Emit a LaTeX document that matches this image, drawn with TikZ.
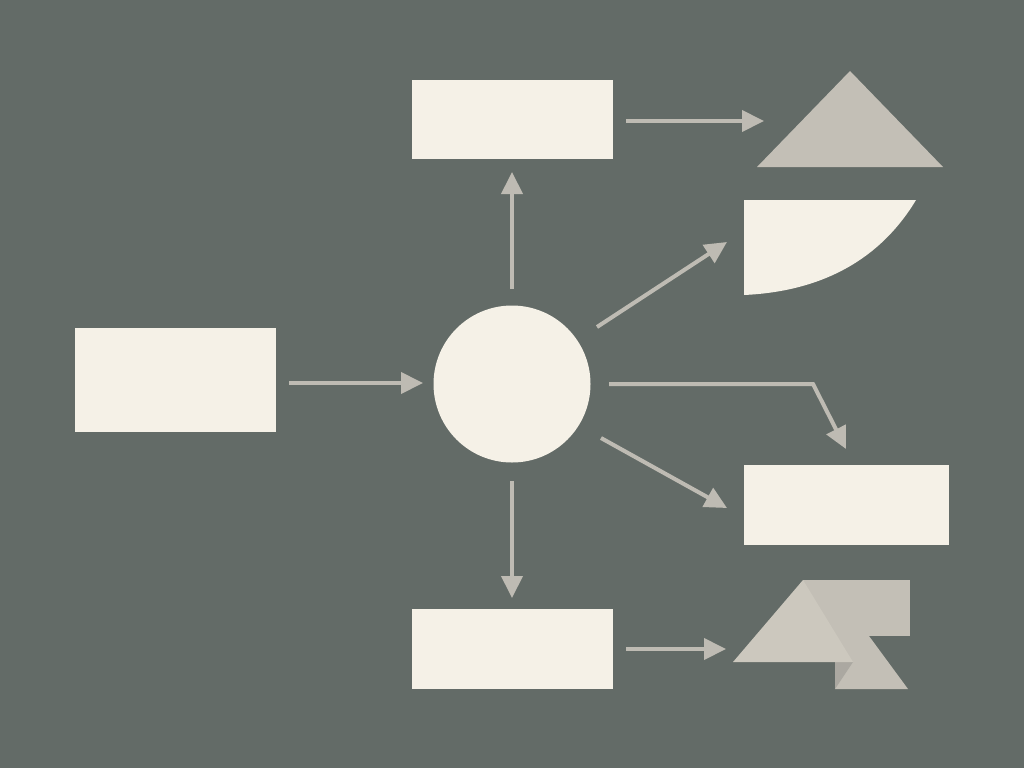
\documentclass[tikz,border=0pt]{standalone}
\usetikzlibrary{arrows.meta}
\definecolor{bg}{HTML}{636B67}
\definecolor{boxc}{HTML}{F5F1E7}
\definecolor{arr}{HTML}{BEBBB3}
\definecolor{tri}{HTML}{C3BFB6}
\definecolor{tril}{HTML}{CCC8BE}
\definecolor{trid}{HTML}{ABA8A1}
\begin{document}
\begin{tikzpicture}[x=1pt,y=-1pt,
  boxn/.style={fill=boxc,draw=none,inner sep=0pt,minimum width=#1},
  conn/.style={draw=arr,line width=4pt,-{Triangle[length=22pt,width=21pt]}}]
\fill[bg] (0,0) rectangle (1024,768);
\useasboundingbox (0,0) rectangle (1024,768);
% nodes
\node[boxn=201pt,minimum height=104pt] (lbox) at (175.5,380) {};
\node[boxn=201pt,minimum height=79pt] (tbox) at (512,119.5) {};
\node[boxn=201pt,minimum height=80pt] (bbox) at (512,649) {};
\node[boxn=205pt,minimum height=80pt] (rbox) at (846.5,505) {};
\node[circle,fill=boxc,inner sep=0pt,minimum size=157pt] (circ) at (512,384) {};
% top triangle
\fill[tri] (850,71) -- (943,167) -- (757,167) -- cycle;
% quarter shape
\fill[boxc] (744,200) -- (916,200) .. controls (875,268) and (810,292) .. (744,295) -- cycle;
% bottom composite shape
\fill[tri] (803,580) rectangle (910,636);
\fill[tri] (835,636) -- (869,636) -- (908,689) -- (835,689) -- cycle;
\fill[trid] (835,662) -- (853,662) -- (835,689) -- cycle;
\fill[tril] (803,580) -- (853,662) -- (733,662) -- cycle;
% connector end points
\coordinate (s1) at (289,383);  \coordinate (e1) at (423,383);
\coordinate (s2) at (512,289);  \coordinate (e2) at (512,172);
\coordinate (s3) at (512,481);  \coordinate (e3) at (512,598);
\coordinate (s4) at (626,121);  \coordinate (e4) at (764,121);
\coordinate (s5) at (626,649);  \coordinate (e5) at (726,649);
\coordinate (s6) at (597,327);  \coordinate (e6) at (727,242);
\coordinate (s7) at (609,384);  \coordinate (b7) at (813,384); \coordinate (e7) at (846,449);
\coordinate (s8) at (601,438);  \coordinate (e8) at (727,508);
% connectors
\draw[conn] (s1) -- (e1);
\draw[conn] (s2) -- (e2);
\draw[conn] (s3) -- (e3);
\draw[conn] (s4) -- (e4);
\draw[conn] (s5) -- (e5);
\draw[conn] (s6) -- (e6);
\draw[conn] (s7) -- (b7) -- (e7);
\draw[conn] (s8) -- (e8);
\end{tikzpicture}
\end{document}
